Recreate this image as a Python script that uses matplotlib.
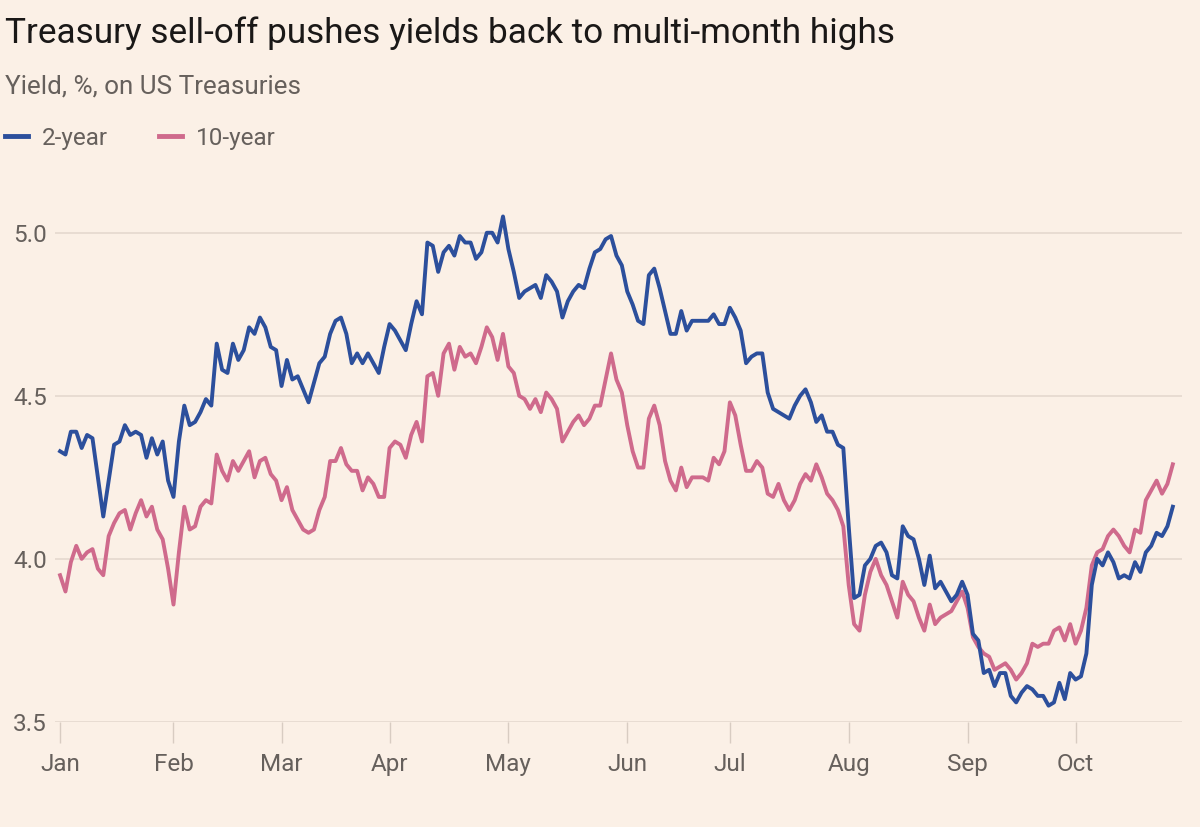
import matplotlib
matplotlib.use("Agg")
import matplotlib.pyplot as plt
import numpy as np
import pandas as pd

BG = "#FBF0E6"
BLUE = "#2C4F9C"
PINK = "#CF6A8C"
GRID = "#E5D9CF"
TEXT_GREY = "#66605C"

plt.rcParams["font.family"] = ["Roboto", "DejaVu Sans"]

# US Treasury trading days, 2 Jan - 28 Oct 2024 (bond market holidays removed)
holidays = ["2024-01-15", "2024-02-19", "2024-03-29", "2024-05-27",
            "2024-06-19", "2024-07-04", "2024-09-02", "2024-10-14"]
dates = pd.bdate_range("2024-01-02", "2024-10-28")
dates = dates[~dates.isin(pd.to_datetime(holidays))]

two_year = [
    4.33, 4.32, 4.39, 4.39, 4.34, 4.38, 4.37, 4.25, 4.13, 4.24,
    4.35, 4.36, 4.41, 4.38, 4.39, 4.38, 4.31, 4.37, 4.32, 4.36,
    4.24, 4.19, 4.36, 4.47, 4.41, 4.42, 4.45, 4.49, 4.47, 4.66,
    4.58, 4.57, 4.66, 4.61, 4.64, 4.71, 4.69, 4.74, 4.71, 4.65,
    4.64, 4.53, 4.61, 4.55, 4.56, 4.52, 4.48, 4.54, 4.60, 4.62,
    4.69, 4.73, 4.74, 4.69, 4.60, 4.63, 4.60, 4.63, 4.60, 4.57,
    4.65, 4.72, 4.70, 4.67, 4.64, 4.72, 4.79, 4.75, 4.97, 4.96,
    4.88, 4.94, 4.96, 4.93, 4.99, 4.97, 4.97, 4.92, 4.94, 5.00,
    5.00, 4.97, 5.05, 4.95, 4.88, 4.80, 4.82, 4.83, 4.84, 4.80,
    4.87, 4.85, 4.82, 4.74, 4.79, 4.82, 4.84, 4.83, 4.89, 4.94,
    4.95, 4.98, 4.99, 4.93, 4.90, 4.82, 4.78, 4.73, 4.72, 4.87,
    4.89, 4.83, 4.76, 4.69, 4.69, 4.76, 4.70, 4.73, 4.73, 4.73,
    4.73, 4.75, 4.72, 4.72, 4.77, 4.74, 4.70, 4.60, 4.62, 4.63,
    4.63, 4.51, 4.46, 4.45, 4.44, 4.43, 4.47, 4.50, 4.52, 4.48,
    4.42, 4.44, 4.39, 4.39, 4.35, 4.34, 4.10, 3.88, 3.89, 3.98,
    4.00, 4.04, 4.05, 4.02, 3.95, 3.94, 4.10, 4.07, 4.06, 4.00,
    3.92, 4.01, 3.91, 3.93, 3.90, 3.87, 3.89, 3.93, 3.89, 3.77,
    3.75, 3.65, 3.66, 3.61, 3.65, 3.65, 3.58, 3.56, 3.59, 3.61,
    3.60, 3.58, 3.58, 3.55, 3.56, 3.62, 3.57, 3.65, 3.63, 3.64,
    3.71, 3.92, 4.00, 3.98, 4.02, 3.99, 3.94, 3.95, 3.94, 3.99,
    3.96, 4.02, 4.04, 4.08, 4.07, 4.10, 4.16,
]

ten_year = [
    3.95, 3.90, 3.99, 4.04, 4.00, 4.02, 4.03, 3.97, 3.95, 4.07,
    4.11, 4.14, 4.15, 4.09, 4.14, 4.18, 4.13, 4.16, 4.09, 4.06,
    3.97, 3.86, 4.02, 4.16, 4.09, 4.10, 4.16, 4.18, 4.17, 4.32,
    4.27, 4.24, 4.30, 4.27, 4.30, 4.33, 4.25, 4.30, 4.31, 4.26,
    4.24, 4.18, 4.22, 4.15, 4.12, 4.09, 4.08, 4.09, 4.15, 4.19,
    4.30, 4.30, 4.34, 4.29, 4.27, 4.27, 4.21, 4.25, 4.23, 4.19,
    4.19, 4.34, 4.36, 4.35, 4.31, 4.38, 4.42, 4.36, 4.56, 4.57,
    4.50, 4.63, 4.66, 4.58, 4.65, 4.62, 4.63, 4.60, 4.65, 4.71,
    4.68, 4.61, 4.69, 4.59, 4.57, 4.50, 4.49, 4.46, 4.49, 4.45,
    4.51, 4.49, 4.46, 4.36, 4.39, 4.42, 4.44, 4.41, 4.43, 4.47,
    4.47, 4.55, 4.63, 4.55, 4.51, 4.41, 4.33, 4.28, 4.28, 4.43,
    4.47, 4.41, 4.30, 4.24, 4.21, 4.28, 4.22, 4.25, 4.25, 4.25,
    4.24, 4.31, 4.29, 4.33, 4.48, 4.44, 4.35, 4.27, 4.27, 4.30,
    4.28, 4.20, 4.19, 4.23, 4.18, 4.15, 4.18, 4.23, 4.26, 4.24,
    4.29, 4.25, 4.20, 4.18, 4.15, 4.10, 3.92, 3.80, 3.78, 3.89,
    3.96, 4.00, 3.95, 3.92, 3.87, 3.82, 3.93, 3.89, 3.87, 3.82,
    3.78, 3.86, 3.80, 3.82, 3.83, 3.84, 3.87, 3.90, 3.85, 3.76,
    3.73, 3.71, 3.70, 3.66, 3.67, 3.68, 3.66, 3.63, 3.65, 3.68,
    3.74, 3.73, 3.74, 3.74, 3.78, 3.79, 3.75, 3.80, 3.74, 3.78,
    3.85, 3.98, 4.02, 4.03, 4.07, 4.09, 4.07, 4.04, 4.02, 4.09,
    4.08, 4.18, 4.21, 4.24, 4.20, 4.23, 4.29,
]

y_ticks = [3.5, 4.0, 4.5, 5.0]

x = np.arange(len(dates))
months = dates.to_period("M")
month_starts = [i for i in range(len(dates)) if i == 0 or months[i] != months[i - 1]]
month_labels = [dates[i].strftime("%b") for i in month_starts]

fig = plt.figure(figsize=(12, 8.27), dpi=100)
fig.patch.set_facecolor(BG)
ax = fig.add_axes([0.046, 0.127, 0.939, 0.631])
ax.set_facecolor(BG)

ax.plot(x, ten_year, color=PINK, linewidth=2.8, label="10-year", solid_joinstyle="round")
ax.plot(x, two_year, color=BLUE, linewidth=2.8, label="2-year", solid_joinstyle="round")

ax.set_xlim(-0.9, 207.7)
ax.set_ylim(3.5, 5.1)
ax.set_yticks(y_ticks)
ax.set_yticklabels([f"{v:.1f}" for v in y_ticks])
ax.set_xticks(month_starts)
ax.set_xticklabels(month_labels)

ax.yaxis.grid(True, color=GRID, linewidth=1.2)
ax.set_axisbelow(True)
for spine in ax.spines.values():
    spine.set_visible(False)
ax.tick_params(axis="y", length=0, pad=6, labelsize=17.5, labelcolor=TEXT_GREY)
ax.tick_params(axis="x", length=15, width=1, color="#D8CCC2", pad=7,
               labelsize=17.5, labelcolor=TEXT_GREY)

fig.text(0.004, 0.960, "Treasury sell-off pushes yields back to multi-month highs",
         fontsize=25.3, color="#1A1817", va="center", ha="left")
fig.text(0.004, 0.895, "Yield, %, on US Treasuries",
         fontsize=18.7, color=TEXT_GREY, va="center", ha="left")

handles, labels = ax.get_legend_handles_labels()
leg = fig.legend(handles[::-1], labels[::-1], loc="center left",
                 bbox_to_anchor=(0.004, 0.833), ncol=2, frameon=False,
                 fontsize=17.5, handlelength=0.95, handletextpad=0.58,
                 columnspacing=2.1, borderpad=0, borderaxespad=0,
                 labelcolor=TEXT_GREY)
for line in leg.get_lines():
    line.set_linewidth(3.5)

fig.savefig("out.png", dpi=100, facecolor=fig.get_facecolor())
